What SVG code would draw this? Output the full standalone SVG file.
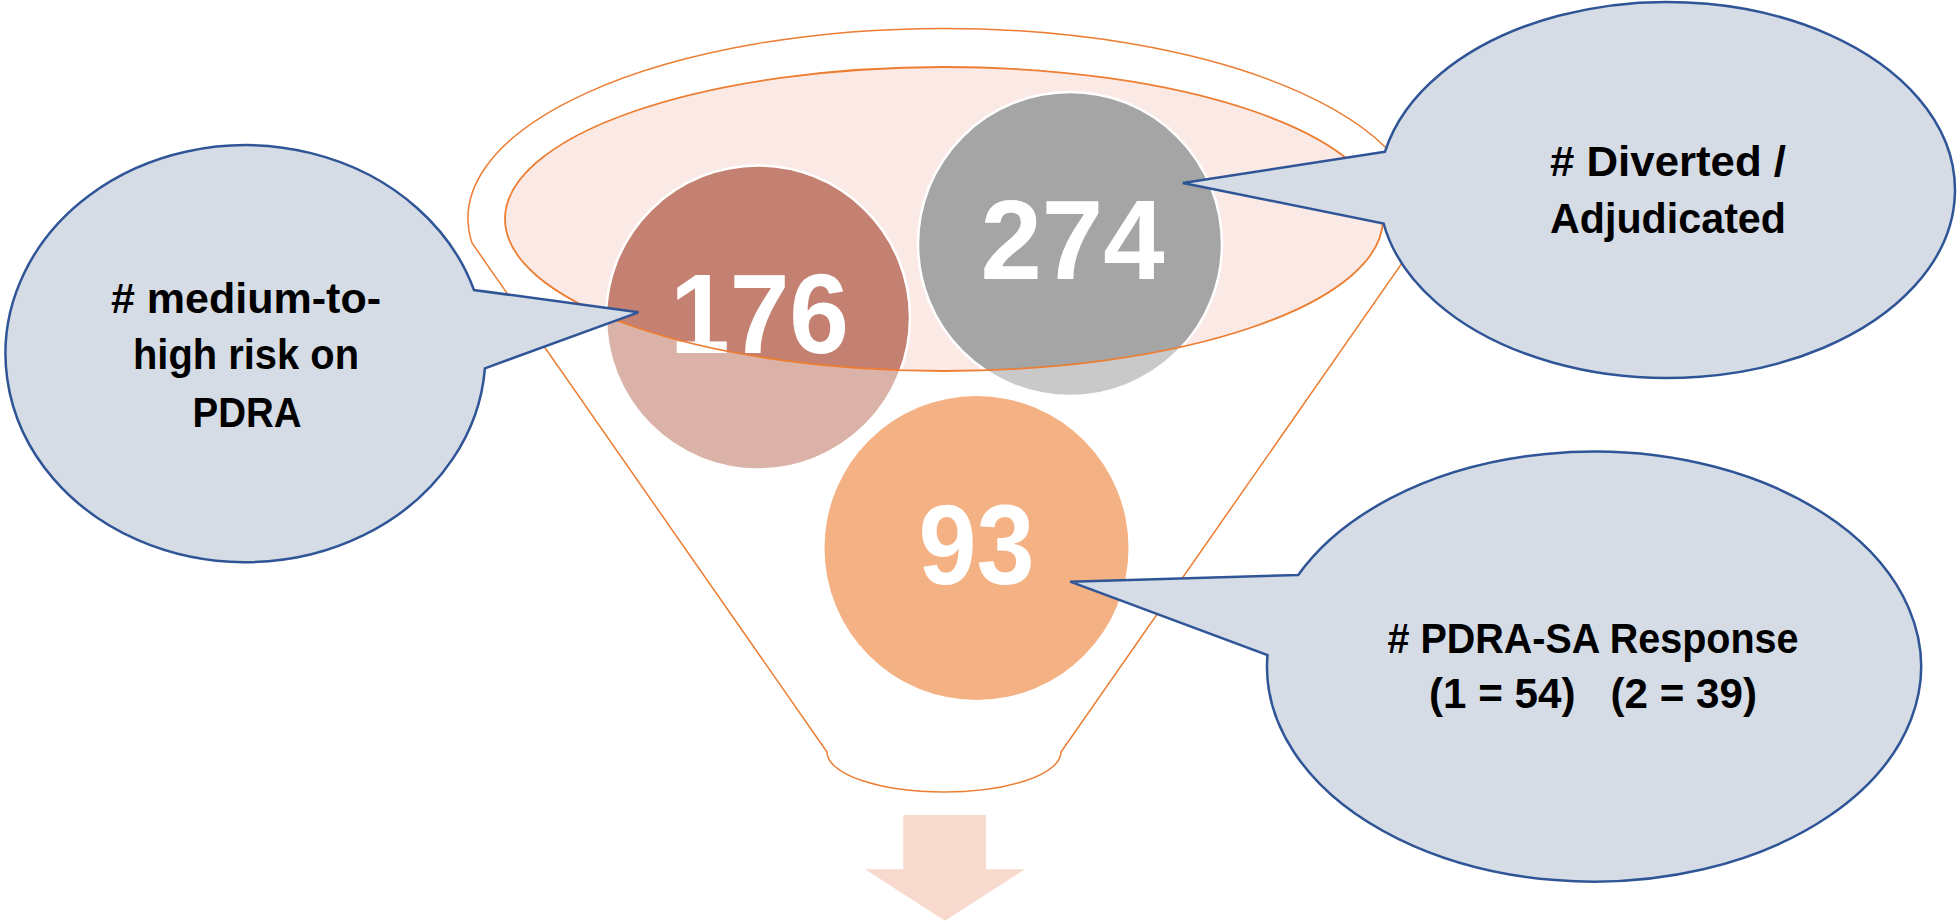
<svg xmlns="http://www.w3.org/2000/svg" width="1957" height="923" viewBox="0 0 1957 923">
<style>
.fun{fill:#FFFFFF;stroke:#ED7D31;stroke-width:1.5}
.rim{fill:none;stroke:#ED7D31;stroke-width:1.8}
.ring{fill:none;stroke:#FFFFFF;stroke-width:2.5}
.num{font-family:"Liberation Sans",Arial,sans-serif;font-weight:bold;font-size:114px;fill:#FFFFFF;text-anchor:middle}
.bub{fill:#D6DCE5;stroke:#2F5597;stroke-width:2.5;stroke-linejoin:miter}
.lbl{font-family:"Liberation Sans",Arial,sans-serif;font-weight:bold;font-size:42px;fill:#000000;text-anchor:middle;white-space:pre}
</style>
<defs>
<clipPath id="innerClip"><ellipse cx="944" cy="219" rx="439" ry="152"/></clipPath>
</defs>
<rect x="0" y="0" width="1957" height="923" fill="#FFFFFF"/>
<g id="funnel">
<path class="fun" d="M 472 243 A 476 190 0 1 1 1416 243 L 1061 752 A 117 40 0 0 1 827 752 Z"/>
<ellipse cx="944" cy="219" rx="439" ry="152" fill="#FBE9E5"/>
</g>
<g id="circle-176">
<circle cx="758" cy="317.5" r="152" fill="#DBB2A7"/>
<circle cx="758" cy="317.5" r="152" fill="#C48070" clip-path="url(#innerClip)"/>
<circle class="ring" cx="758" cy="317.5" r="152"/>
</g>
<g id="circle-274">
<circle cx="1070" cy="244" r="152" fill="#C9C9C9"/>
<circle cx="1070" cy="244" r="152" fill="#A5A5A5" clip-path="url(#innerClip)"/>
<circle class="ring" cx="1070" cy="244" r="152"/>
</g>
<g id="circle-93">
<circle cx="976.5" cy="548" r="152" fill="#F4B183"/>
</g>
<text class="num" x="759.5" y="353" textLength="179" lengthAdjust="spacingAndGlyphs">176</text>
<text class="num" x="1072.5" y="279" textLength="184" lengthAdjust="spacingAndGlyphs">274</text>
<text class="num" x="976.5" y="584" textLength="116" lengthAdjust="spacingAndGlyphs">93</text>
<ellipse id="funnel-rim" class="rim" cx="944" cy="219" rx="439" ry="152"/>
<g id="connectors">
<path d="M 903.3 815 L 986 815 L 986 869.3 L 1025 869.3 L 945 920.7 L 865 869.3 L 903.3 869.3 Z" fill="#F8D9CE"/>
</g>
<g id="callout-medium-high">
<path class="bub" d="M 484.9 368.3 L 638.4 312.3 L 474 290 A 240 208.5 0 1 0 484.9 368.3 Z"/>
<text class="lbl" x="246" y="313" textLength="270" lengthAdjust="spacingAndGlyphs"># medium-to-</text>
<text class="lbl" x="246" y="369" textLength="226" lengthAdjust="spacingAndGlyphs">high risk on</text>
<text class="lbl" x="247" y="427" textLength="109" lengthAdjust="spacingAndGlyphs">PDRA</text>
</g>
<g id="callout-diverted">
<path class="bub" d="M 1385 151.7 L 1182.8 183 L 1383.6 223.5 A 288 188 0 1 0 1385 151.7 Z"/>
<text class="lbl" x="1668" y="176" textLength="236" lengthAdjust="spacingAndGlyphs"># Diverted /</text>
<text class="lbl" x="1668" y="233" textLength="236" lengthAdjust="spacingAndGlyphs">Adjudicated</text>
</g>
<g id="callout-pdra-sa">
<path class="bub" d="M 1298.2 575 L 1070.2 581.7 L 1267.5 655 A 327 215 0 1 0 1298.2 575 Z"/>
<text class="lbl" x="1593" y="653" textLength="411" lengthAdjust="spacingAndGlyphs"># PDRA-SA Response</text>
<text class="lbl" x="1593" y="708" textLength="328" lengthAdjust="spacingAndGlyphs">(1 = 54)   (2 = 39)</text>
</g>
</svg>
